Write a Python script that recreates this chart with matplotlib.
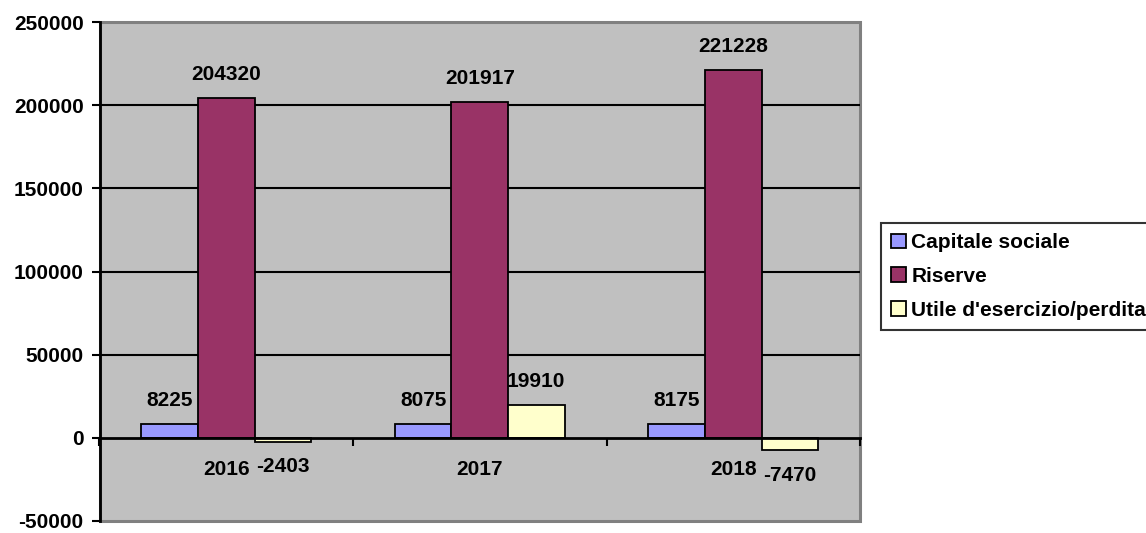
import numpy as np
import matplotlib.pyplot as plt

years = ['2016', '2017', '2018']
capitale = [8225, 8075, 8175]
riserve = [204320, 201917, 221228]
utile = [-2403, 19910, -7470]
series_names = ['Capitale sociale', 'Riserve', "Utile d'esercizio/perdita"]
colors = ['#9999FF', '#993366', '#FFFFCC']
yticks = [-50000, 0, 50000, 100000, 150000, 200000, 250000]

plt.rcParams['font.family'] = ['Liberation Sans', 'DejaVu Sans']
plt.rcParams['font.weight'] = 'bold'
plt.rcParams['font.size'] = 15

fig = plt.figure(figsize=(11.46, 5.33), dpi=100)
ax = fig.add_axes([99.5 / 1146, 1 - 521 / 533, (860 - 99.5) / 1146, (521 - 22) / 533])

ax.set_facecolor('#C0C0C0')
ax.patch.set_edgecolor('#808080')
ax.patch.set_linewidth(2.2)

x = np.arange(len(years))
w = 0.223
for i, (vals, c, name) in enumerate(zip([capitale, riserve, utile], colors, series_names)):
    pos = x + (i - 1) * w
    ax.bar(pos, vals, width=w, color=c, edgecolor='black', linewidth=1.3,
           label=name, zorder=3)
    for px, v in zip(pos, vals):
        off = 17 if v >= 0 else -18
        ax.annotate(str(v), (px, v), xytext=(0, off), textcoords='offset points',
                    ha='center', va='center', fontweight='bold', zorder=4)

ax.set_xlim(-0.5, 2.5)
ax.set_ylim(-50000, 250000)
ax.set_yticks(yticks)
ax.set_yticklabels([str(t) for t in yticks])
for t in yticks[2:-1]:
    ax.axhline(t, color='black', linewidth=1.5, zorder=1)

for s in ['top', 'right']:
    ax.spines[s].set_visible(False)
ax.spines['left'].set_linewidth(2)
ax.spines['bottom'].set_position(('data', 0))
ax.spines['bottom'].set_linewidth(2)
ax.spines['bottom'].set_zorder(5)

ax.set_xticks(x)
ax.set_xticklabels(years)
ax.set_xticks(np.arange(-0.5, 3, 1), minor=True)
ax.tick_params(axis='x', which='major', length=0, pad=16)
ax.tick_params(axis='x', which='minor', length=5.5, width=1.5, direction='out')
ax.tick_params(axis='y', length=5.5, width=1.5, pad=6)

leg = fig.legend(loc='upper left', bbox_to_anchor=(881 / 1146, 1 - 223 / 533),
                 frameon=True, fancybox=False, edgecolor='black',
                 handlelength=0.7, handleheight=0.7, handletextpad=0.25,
                 labelspacing=0.7, borderpad=0.5, borderaxespad=0)
leg.get_frame().set_linewidth(1.5)

fig.savefig('out.png', dpi=100)
